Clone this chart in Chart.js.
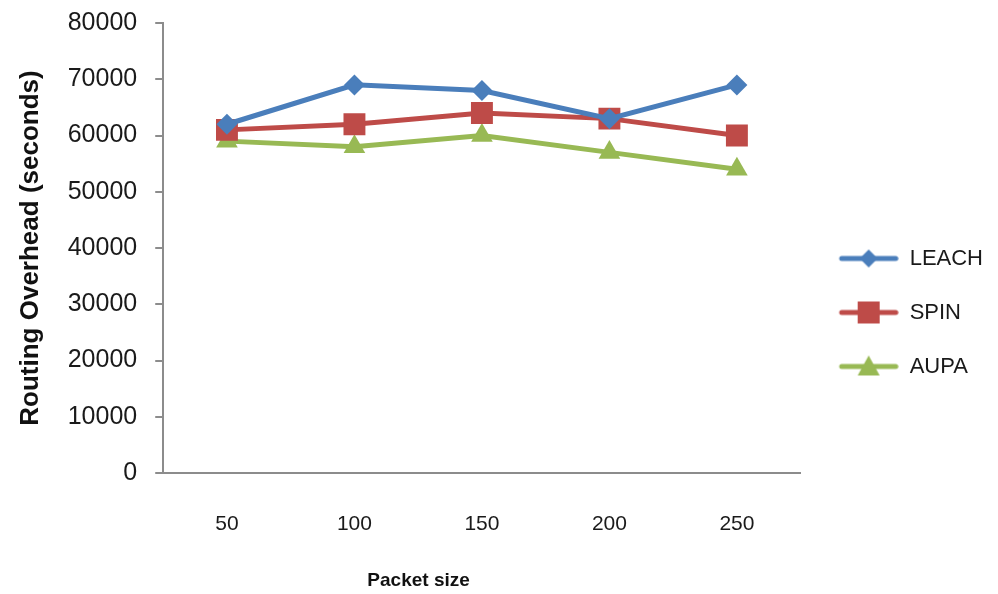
<!DOCTYPE html>
<html>
<head>
<meta charset="utf-8">
<script src="https://cdn.jsdelivr.net/npm/chart.js@4/dist/chart.umd.min.js"></script>
<style>
  html, body { margin: 0; padding: 0; background: #fff; }
  #wrap { width: 998px; height: 594px; position: relative; }
</style>
</head>
<body>
<div id="wrap"><canvas id="c"></canvas></div>
<script>
// Packet sizes on the x axis
const packetSizes = ['50', '100', '150', '200', '250'];

// Routing overhead for each protocol
const leach = [62000, 69000, 68000, 63000, 69000];
const spin  = [61000, 62000, 64000, 63000, 60000];
const aupa  = [59000, 58000, 60000, 57000, 54000];

const seriesNames = ['LEACH', 'SPIN', 'AUPA'];

const colors = {
  LEACH: '#4a7ebb',
  SPIN: '#be4b48',
  AUPA: '#98b954'
};

const FONT = "'Liberation Sans', Arial, sans-serif";
const SWATCH_W = 66;

// Legend swatch: short line with the series marker in the middle
function swatch(color, style) {
  const cv = document.createElement('canvas');
  cv.width = SWATCH_W; cv.height = 24;
  const ctx = cv.getContext('2d');
  const x0 = 7, x1 = SWATCH_W - 1, cx = (x0 + x1) / 2;
  ctx.strokeStyle = color;
  ctx.lineWidth = 5;
  ctx.lineCap = 'round';
  ctx.beginPath();
  ctx.moveTo(x0 + 2, 12); ctx.lineTo(x1 - 2, 12);
  ctx.stroke();
  ctx.fillStyle = color;
  ctx.beginPath();
  if (style === 'rectRot') {
    ctx.moveTo(cx, 3); ctx.lineTo(cx + 9, 12); ctx.lineTo(cx, 21); ctx.lineTo(cx - 9, 12);
  } else if (style === 'rect') {
    ctx.rect(cx - 11, 1, 22, 22);
  } else {
    ctx.moveTo(cx, 1); ctx.lineTo(cx + 11, 21); ctx.lineTo(cx - 11, 21);
  }
  ctx.closePath();
  ctx.fill();
  return cv;
}

const markerStyles = { LEACH: 'rectRot', SPIN: 'rect', AUPA: 'triangle' };
const markerRadius = { LEACH: 10.5, SPIN: 15.5, AUPA: 12.5 };
const values = { LEACH: leach, SPIN: spin, AUPA: aupa };

const datasets = seriesNames.map(name => ({
  label: name,
  data: values[name],
  borderColor: colors[name],
  backgroundColor: colors[name],
  borderWidth: 5,
  pointStyle: markerStyles[name],
  pointRadius: markerRadius[name],
  pointBorderWidth: 0,
  pointHoverRadius: markerRadius[name],
  tension: 0,
  fill: false
}));

const swatches = {
  LEACH: swatch(colors.LEACH, 'rectRot'),
  SPIN: swatch(colors.SPIN, 'rect'),
  AUPA: swatch(colors.AUPA, 'triangle')
};

// Title sits left of the plot centre; trailing spaces shift it
const xTitle = 'Packet size' + ' '.repeat(24);

new Chart(document.getElementById('c'), {
  type: 'line',
  data: { labels: packetSizes, datasets },
  options: {
    responsive: true,
    maintainAspectRatio: false,
    animation: false,
    layout: { padding: { top: 0, right: 5, bottom: 2, left: 15 } },
    plugins: {
      tooltip: { enabled: false },
      legend: {
        position: 'right',
        align: 'center',
        title: { display: true, text: '', font: { size: 10 }, padding: 10.5 },
        labels: {
          color: '#1a1a1a',
          font: { family: FONT, size: 22 },
          usePointStyle: true,
          pointStyleWidth: SWATCH_W,
          padding: 32,
          generateLabels(chart) {
            return chart.data.datasets.map((ds, i) => ({
              text: ds.label,
              pointStyle: swatches[ds.label],
              fillStyle: ds.borderColor,
              strokeStyle: ds.borderColor,
              lineWidth: 0,
              hidden: false,
              datasetIndex: i,
              fontColor: '#1a1a1a'
            }));
          }
        }
      }
    },
    scales: {
      x: {
        offset: true,
        grid: { display: false, drawTicks: false },
        border: { display: true, color: '#8c8c8c', width: 2 },
        ticks: {
          color: '#1a1a1a',
          font: { family: FONT, size: 21 },
          padding: 39
        },
        title: {
          display: true,
          text: xTitle,
          color: '#111',
          font: { family: FONT, size: 19, weight: 'bold' },
          padding: { top: -7, bottom: 0 }
        }
      },
      y: {
        min: 0,
        max: 80000,
        afterFit(scale) {
          // keep the plot top close to the canvas edge
          scale.paddingTop = 23;
        },
        grid: {
          display: true,
          drawOnChartArea: false,
          drawTicks: true,
          tickLength: 8,
          color: '#8c8c8c',
          lineWidth: 2
        },
        border: { display: true, color: '#8c8c8c', width: 2 },
        ticks: {
          stepSize: 10000,
          color: '#1a1a1a',
          font: { family: FONT, size: 25 },
          padding: 18,
          callback: v => String(v)
        },
        title: {
          display: true,
          text: 'Routing Overhead (seconds)',
          color: '#111',
          font: { family: FONT, size: 26, weight: 'bold' },
          padding: { top: 0, bottom: 3.5 }
        }
      }
    }
  }
});
</script>
</body>
</html>
